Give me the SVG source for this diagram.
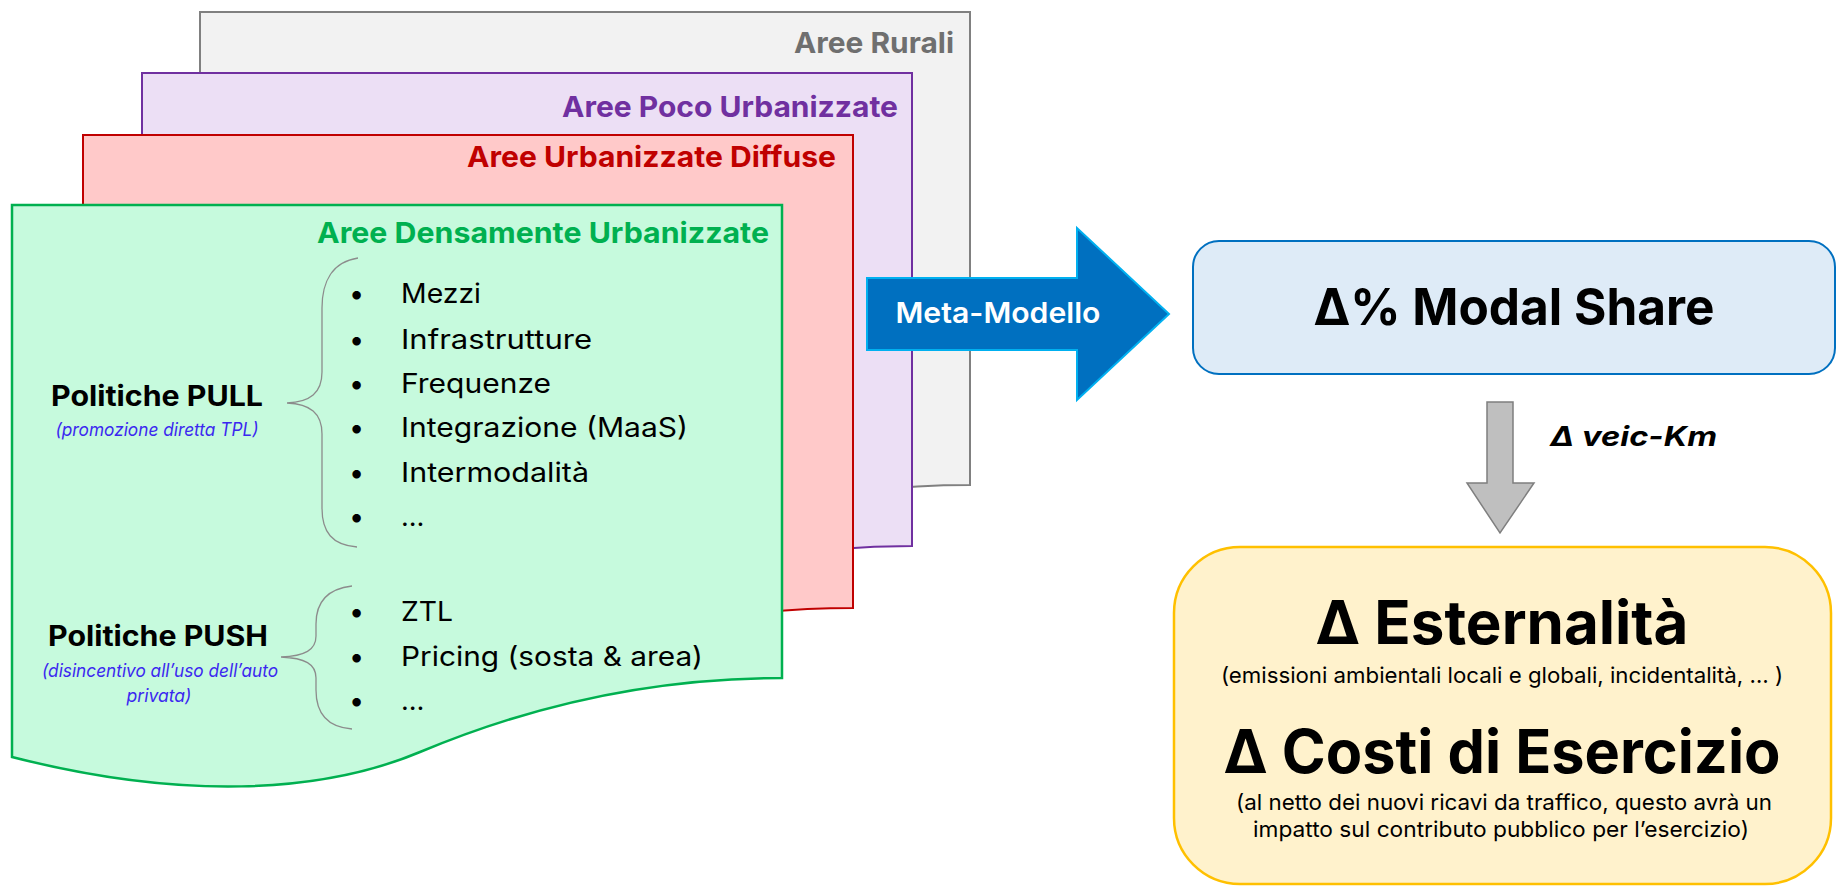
<svg xmlns="http://www.w3.org/2000/svg" xmlns:xlink="http://www.w3.org/1999/xlink" width="1838" height="890" viewBox="0 0 1838 890">
<defs>
<path id="doc" d="M0,0 H770 V473 C628,473 508,505 408,547 C308,589 168,595 0,552 Z"/>
<style>
text{font-family:Inter,"Liberation Sans",sans-serif}
.area{font-weight:700;font-size:29px;text-anchor:end}
.item{font-size:27px;fill:#000}
.bul{font-size:27px;fill:#000}
.pol{font-weight:700;font-size:28px;text-anchor:middle;fill:#000}
.sub{font-style:italic;font-size:18px;text-anchor:middle;fill:#3b28f0}
.brace{fill:none;stroke:#8c8c8c;stroke-width:1.3}
.big{font-weight:700;font-size:60px;text-anchor:middle;fill:#000}
.note{font-size:22px;text-anchor:middle;fill:#000}
</style>
</defs>
<rect width="1838" height="890" fill="#ffffff"/>
<g id="node-rurali">
<use xlink:href="#doc" transform="translate(200,12)" fill="#f2f2f2" stroke="#808080" stroke-width="2"/>
<text class="area" x="954" y="53" fill="#6f6f6f" textLength="160" lengthAdjust="spacingAndGlyphs">Aree Rurali</text>
</g>
<g id="node-poco">
<use xlink:href="#doc" transform="translate(142,73)" fill="#ecdff5" stroke="#7030a0" stroke-width="2"/>
<text class="area" x="898" y="117" fill="#7030a0" textLength="336" lengthAdjust="spacingAndGlyphs">Aree Poco Urbanizzate</text>
</g>
<g id="node-diffuse">
<use xlink:href="#doc" transform="translate(83,135)" fill="#ffc9c9" stroke="#c00000" stroke-width="2"/>
<text class="area" x="836" y="167" fill="#c00000" textLength="369" lengthAdjust="spacingAndGlyphs">Aree Urbanizzate Diffuse</text>
</g>
<g id="node-densamente">
<use xlink:href="#doc" transform="translate(12,205)" fill="#c6fadd" stroke="#00b050" stroke-width="2.5"/>
<text class="area" x="769" y="243" fill="#00b050" textLength="452" lengthAdjust="spacingAndGlyphs">Aree Densamente Urbanizzate</text>
<text class="pol" x="157" y="406" textLength="212" lengthAdjust="spacingAndGlyphs">Politiche PULL</text>
<text class="sub" x="157" y="436" textLength="203" lengthAdjust="spacingAndGlyphs">(promozione diretta TPL)</text>
<path class="brace" d="M358,258 C332,262 322,282 322,308 L322,372 C322,393 310,402 287,403 C310,404 322,413 322,434 L322,508 C322,532 332,545 357,547"/>
<g class="bul">
<text x="349" y="303">•</text><text x="349" y="349">•</text><text x="349" y="393">•</text>
<text x="349" y="437">•</text><text x="349" y="482">•</text><text x="349" y="526">•</text>
<text x="349" y="621">•</text><text x="349" y="666">•</text><text x="349" y="710">•</text>
</g>
<text class="item" x="401" y="303" textLength="80" lengthAdjust="spacingAndGlyphs">Mezzi</text>
<text class="item" x="401" y="349" textLength="191" lengthAdjust="spacingAndGlyphs">Infrastrutture</text>
<text class="item" x="401" y="393" textLength="150" lengthAdjust="spacingAndGlyphs">Frequenze</text>
<text class="item" x="401" y="437" textLength="287" lengthAdjust="spacingAndGlyphs">Integrazione (MaaS)</text>
<text class="item" x="401" y="482" textLength="188" lengthAdjust="spacingAndGlyphs">Intermodalità</text>
<text class="item" x="401" y="526">…</text>
<text class="pol" x="158" y="646" textLength="220" lengthAdjust="spacingAndGlyphs">Politiche PUSH</text>
<text class="sub" x="160" y="677" textLength="236" lengthAdjust="spacingAndGlyphs">(disincentivo all’uso dell’auto</text>
<text class="sub" x="159" y="702" textLength="65" lengthAdjust="spacingAndGlyphs">privata)</text>
<path class="brace" d="M352,586 C326,589 316,604 316,624 L316,636 C316,650 305,656 281,657 C305,658 316,664 316,678 L316,690 C316,712 326,727 352,729"/>
<text class="item" x="401" y="621" textLength="52" lengthAdjust="spacingAndGlyphs">ZTL</text>
<text class="item" x="401" y="666" textLength="302" lengthAdjust="spacingAndGlyphs">Pricing (sosta &amp; area)</text>
<text class="item" x="401" y="710">…</text>
</g>
<g id="node-modal">
<rect x="1193" y="241" width="642" height="133" rx="26" fill="#deebf7" stroke="#0070c0" stroke-width="2"/>
<text x="1514" y="325" font-weight="700" font-size="51" text-anchor="middle" fill="#000" textLength="401" lengthAdjust="spacingAndGlyphs">Δ% Modal Share</text>
</g>
<g id="node-esternalita">
<rect x="1174" y="547" width="657" height="337" rx="66" fill="#fff2cc" stroke="#ffc000" stroke-width="2.5"/>
<text class="big" x="1502" y="644" textLength="373" lengthAdjust="spacingAndGlyphs">Δ Esternalità</text>
<text class="note" x="1502" y="683" textLength="562" lengthAdjust="spacingAndGlyphs">(emissioni ambientali locali e globali, incidentalità, … )</text>
<text class="big" x="1502" y="773" textLength="557" lengthAdjust="spacingAndGlyphs">Δ Costi di Esercizio</text>
<text class="note" x="1504" y="810" textLength="536" lengthAdjust="spacingAndGlyphs">(al netto dei nuovi ricavi da traffico, questo avrà un</text>
<text class="note" x="1501" y="837" textLength="496" lengthAdjust="spacingAndGlyphs">impatto sul contributo pubblico per l’esercizio)</text>
</g>
<g id="connectors">
<g id="edge-meta-modello">
<polygon points="867,278 1077,278 1077,228 1169,314 1077,400 1077,350 867,350" fill="#0070c0" stroke="#00b0f0" stroke-width="2"/>
<text x="998" y="323" font-weight="600" font-size="29" text-anchor="middle" fill="#ffffff" textLength="205" lengthAdjust="spacingAndGlyphs">Meta-Modello</text>
</g>
<g id="edge-veic-km">
<polygon points="1487,402 1513,402 1513,483 1534,483 1500,533 1467,483 1487,483" fill="#bfbfbf" stroke="#7f7f7f" stroke-width="1.5"/>
<text x="1550" y="446" font-weight="700" font-style="italic" font-size="27" fill="#000" textLength="167" lengthAdjust="spacingAndGlyphs">Δ veic-Km</text>
</g>
</g>
</svg>
